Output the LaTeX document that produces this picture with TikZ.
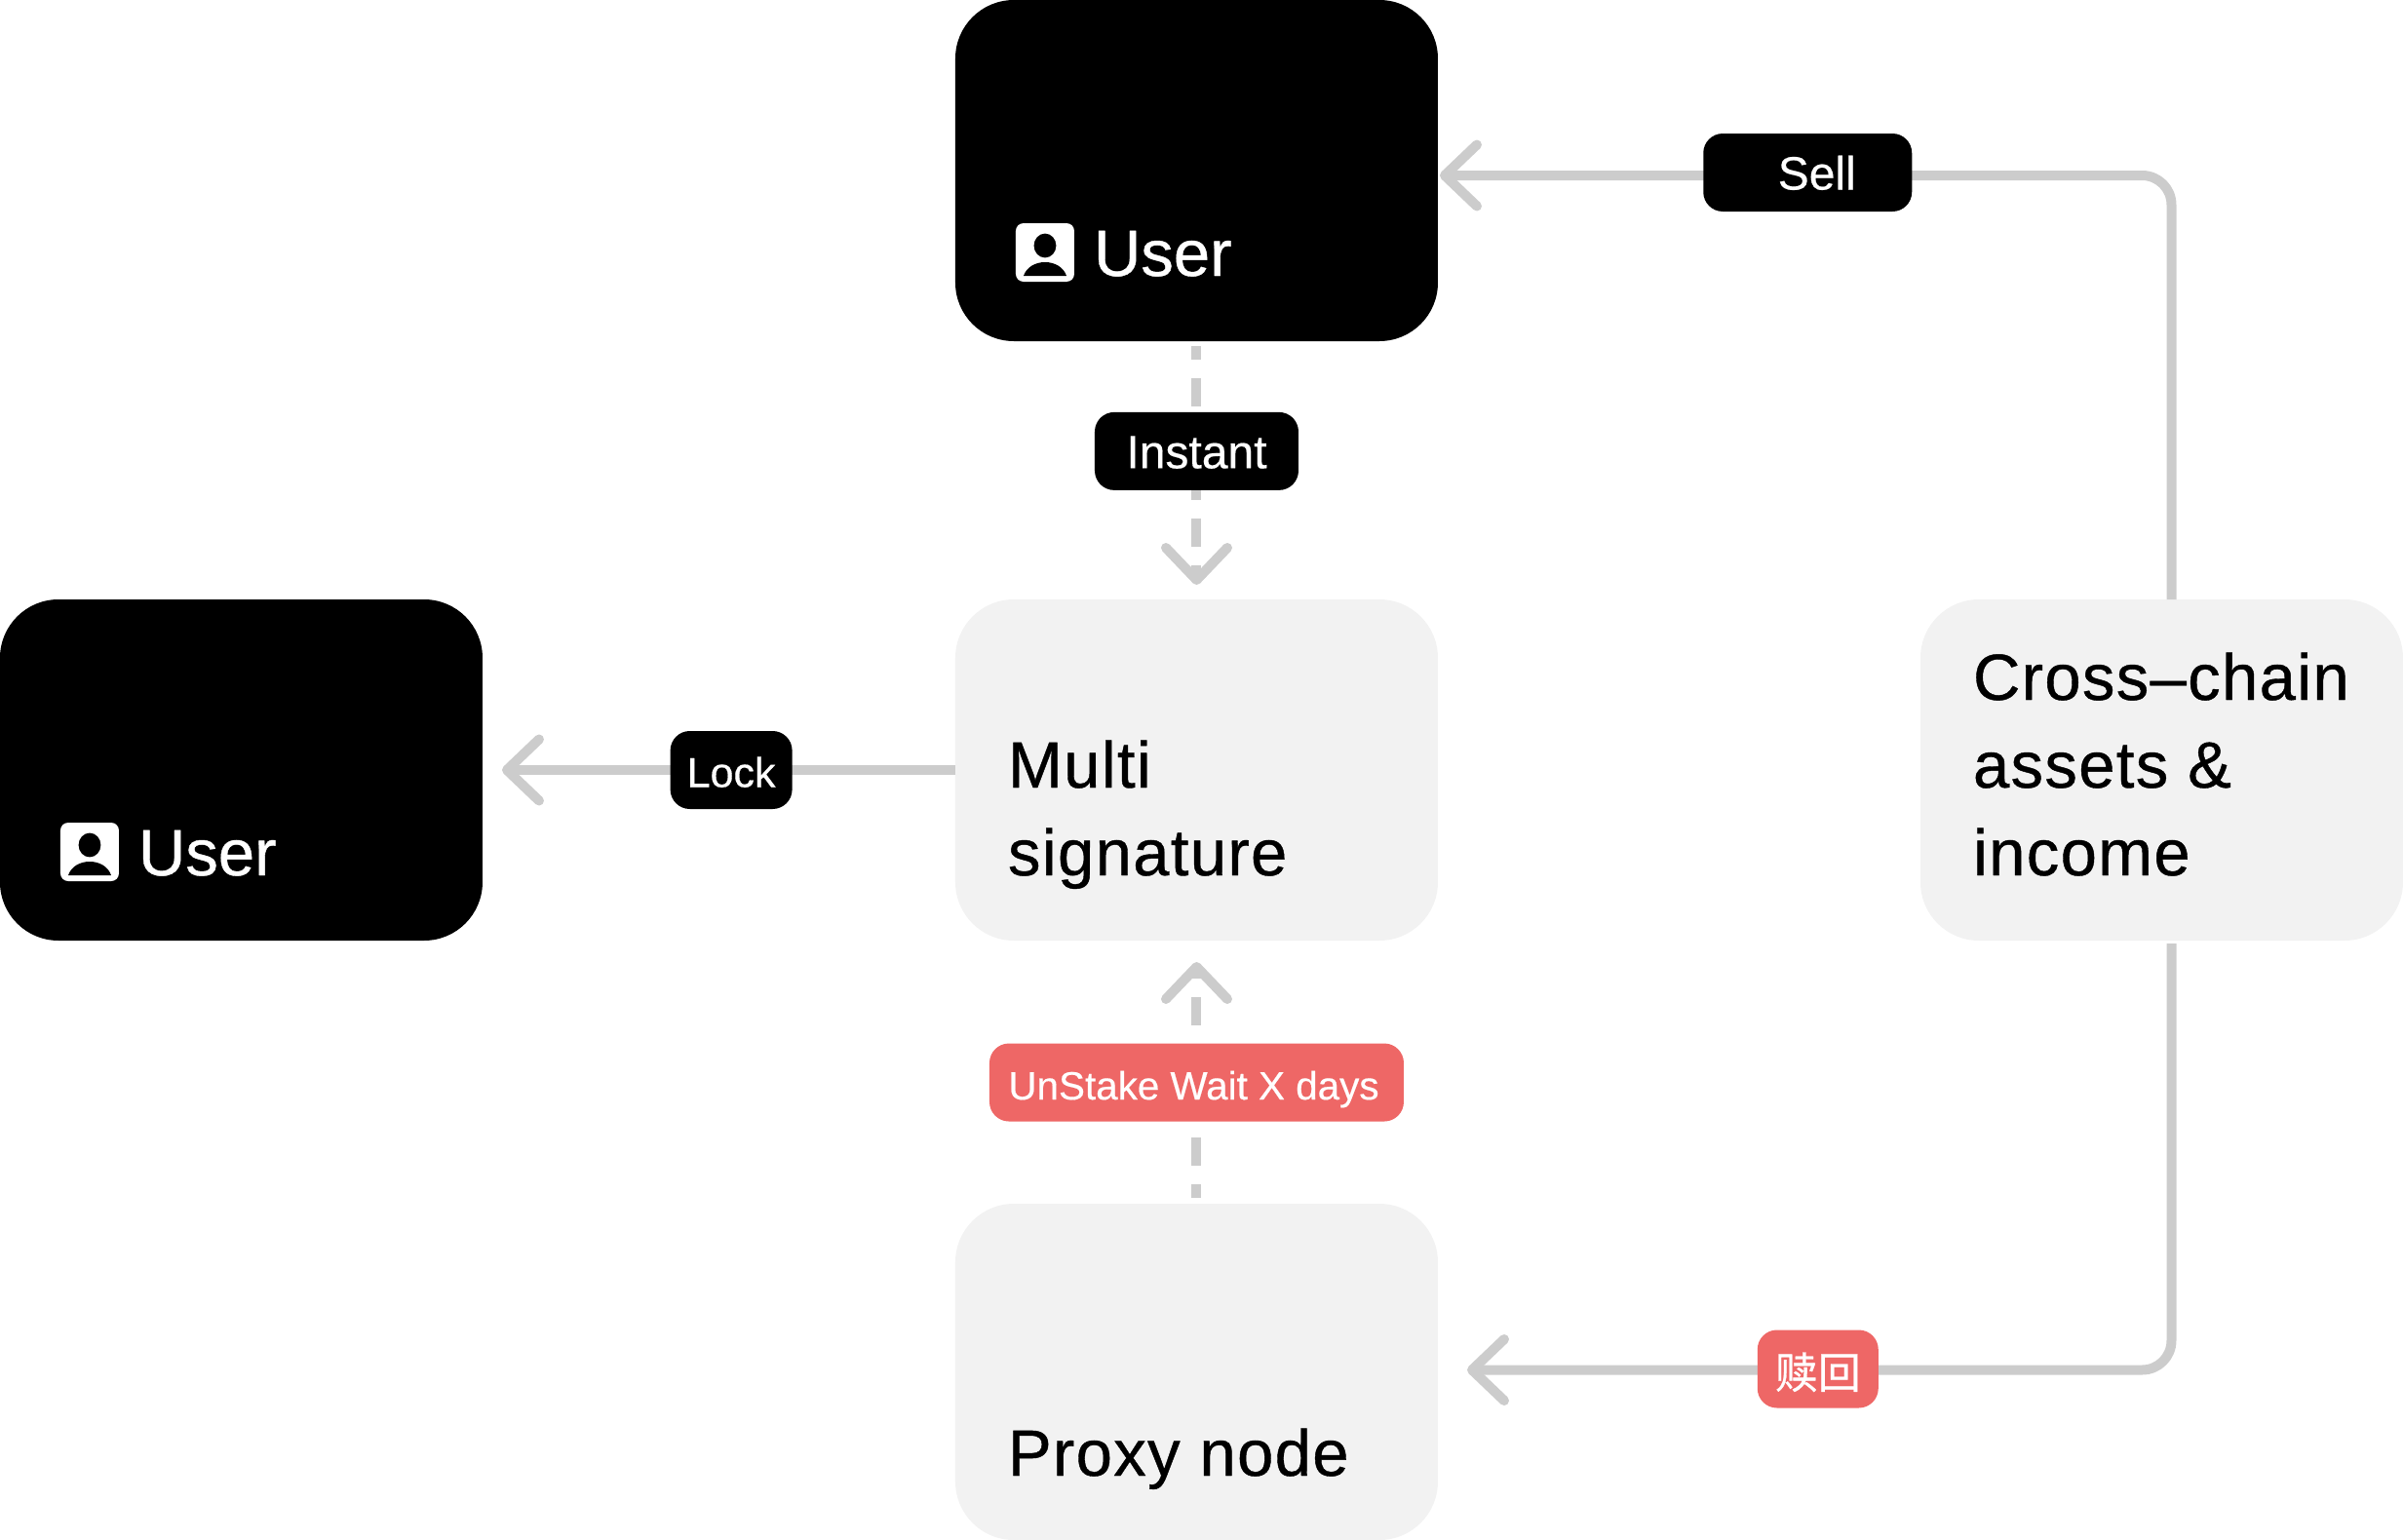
\documentclass[tikz,border=0pt]{standalone}
\usepackage{fontspec}
\setmainfont{Liberation Sans}
\newfontfamily\cjk{Noto Sans CJK SC}
\usepackage{xcolor}
\usetikzlibrary{positioning,arrows.meta}
\definecolor{lineGray}{HTML}{CCCCCC}
\definecolor{boxGray}{HTML}{F2F2F2}
\definecolor{tagRed}{HTML}{EE6766}
\tikzset{
  darkBox/.style={
    rectangle,
    rounded corners=30pt,
    fill=black,
    minimum width=247.5pt,
    minimum height=175pt,
    inner sep=0pt,
    outer sep=0pt
  },
  lightBox/.style={
    darkBox,
    fill=boxGray
  },
  boxText/.style={
    anchor=base west,
    inner sep=0pt,
    outer sep=0pt,
    align=left,
    font=\fontsize{33.5pt}{45pt}\selectfont\addfontfeature{FakeBold=0.6}
  },
  spacedText/.style={
    boxText,
    font=\fontsize{33.5pt}{45pt}\selectfont\addfontfeature{FakeBold=0.6,LetterSpace=2}
  },
  tagBox/.style={
    rectangle,
    rounded corners=10pt,
    fill=black,
    text=white,
    minimum height=40pt,
    text height=20pt,
    text depth=2.5pt,
    inner sep=0pt,
    outer sep=0pt,
    font=\fontsize{24pt}{28pt}\selectfont\addfontfeature{FakeBold=0.4}
  },
  redTag/.style={
    tagBox,
    fill=tagRed
  },
  arrowLine/.style={
    draw=lineGray,
    line width=5pt,
    -{Straight Barb[length=16.5pt,width=31.5pt,round]}
  },
  dashLine/.style={
    arrowLine,
    dash pattern=on 14.5pt off 9.5pt,
    dash phase=7.5pt
  },
  pics/userIcon/.style={
    code={
      \fill[white, rounded corners=4pt] (-15pt,-15pt) rectangle (15pt,15pt);
      \fill[black] (0pt,3.5pt) ellipse (5.7pt and 6.2pt);
      \fill[black] (-11pt,-12pt) .. controls (-9.5pt,-7.5pt) and (-5pt,-5pt) .. (0pt,-5pt)
        .. controls (5pt,-5pt) and (9.5pt,-7.5pt) .. (11pt,-12pt) -- cycle;
    }
  }
}
\begin{document}
\begin{tikzpicture}
        \node[darkBox] (userTop) {};
        \node[lightBox, below=132.5pt of userTop] (multi) {};
        \node[darkBox, left=242.5pt of multi] (userLeft) {};
        \node[lightBox, right=247.5pt of multi] (cross) {};
        \node[lightBox, minimum height=172.5pt, below=135pt of multi] (proxy) {};

        \pic at ([xshift=46pt,yshift=45.5pt]userTop.south west) {userIcon};
        \pic at ([xshift=46pt,yshift=45.5pt]userLeft.south west) {userIcon};
        \node[boxText, text=white] (userTopText) at ([xshift=71pt,yshift=33.5pt]userTop.south west) {User};
        \node[boxText, text=white] (userLeftText) at ([xshift=71pt,yshift=33.5pt]userLeft.south west) {User};
        \node[spacedText] (multiText) at ([xshift=27pt,yshift=33.5pt]multi.south west) {Multi\\signature};
        \node[spacedText] (crossText) at ([xshift=27pt,yshift=33.5pt]cross.south west) {Cross–chain\\assets \&\\income};
        \node[spacedText] (proxyText) at ([xshift=27pt,yshift=33pt]proxy.south west) {Proxy node};

        \coordinate (sellStart) at ([xshift=5pt]cross.north);
        \coordinate (sellEnd) at ([yshift=-2.5pt]userTop.east);
        \coordinate (redeemStart) at ([xshift=5pt,yshift=-1.5pt]cross.south);
        \coordinate (redeemEnd) at ([yshift=1pt]proxy.east);

        \draw[dashLine, shorten <=2.5pt, shorten >=7.5pt] (userTop) -- node[tagBox, minimum width=104.5pt, pos=0.426] (tagInstant) {Instant} (multi);
        \draw[dashLine, shorten <=3pt, shorten >=11pt] (proxy) -- node[redTag, minimum width=212.5pt, pos=0.461, font=\fontsize{20.2pt}{24pt}\selectfont\addfontfeature{FakeBold=0.4}] (tagUnstake) {UnStake Wait X days\hspace*{3pt}} (multi);
        \draw[arrowLine, shorten >=10pt] (multi) -- node[tagBox, minimum width=62.5pt, pos=0.474, font=\fontsize{21.5pt}{26pt}\selectfont\addfontfeature{FakeBold=0.4}] (tagLock) {Lock} (userLeft);
        \draw[arrowLine, rounded corners=15pt, shorten >=1pt] (sellStart) |- node[tagBox, minimum width=107pt, pos=0.748, yshift=1.5pt] (tagSell) {\hspace*{9.5pt}Sell} (sellEnd);
        \draw[arrowLine, rounded corners=15pt, shorten >=15pt] (redeemStart) |- node[redTag, minimum width=62pt, pos=0.741, yshift=0.5pt, text depth=0pt, font=\fontsize{22pt}{26pt}\selectfont\cjk\addfontfeature{FakeBold=0.6}] (tagRedeem) {赎回} (redeemEnd);
    \end{tikzpicture}
\end{document}
